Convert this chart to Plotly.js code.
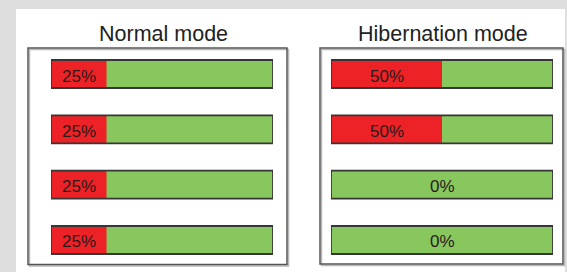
<!DOCTYPE html>
<html>
<head>
<meta charset="utf-8">
<script src="https://cdn.plot.ly/plotly-3.0.1.min.js"></script>
<style>html,body{margin:0;padding:0;background:#dedede;}#chart{width:567px;height:272px;}</style>
</head>
<body>
<div id="chart"></div>
<script>
// Data
var rows = [1, 2, 3, 4];
var panelTitles = ["Normal mode", "Hibernation mode"];
var normalRed = [25, 25, 25, 25];
var normalGreen = [75, 75, 75, 75];
var hibernationRed = [50, 50, 0, 0];
var hibernationGreen = [50, 50, 100, 100];

var RED = '#ec2227', GREEN = '#88c65e', OUTLINE = '#363636';
var FONT = 'Liberation Sans, Arial, sans-serif';

function panelTraces(red, green, xa, ya) {
  var total = red.map(function (r, i) { return r + green[i]; });
  var common = {type: 'bar', orientation: 'h', y: rows, width: 0.506, xaxis: xa, yaxis: ya, hoverinfo: 'skip', showlegend: false};
  return [
    Object.assign({}, common, {x: total, base: 0, marker: {color: GREEN, line: {width: 0}}}),
    Object.assign({}, common, {x: red, base: 0, marker: {color: RED, line: {width: 0}}}),
    Object.assign({}, common, {x: total, base: 0, marker: {color: 'rgba(0,0,0,0)', line: {width: 1.8, color: OUTLINE}}})
  ];
}

function panelLabels(red, green, xa, ya) {
  return red.map(function (r, i) {
    var total = r + green[i];
    return {xref: xa, yref: ya, x: r > 0 ? r / 2 : total / 2, y: rows[i], text: r + '%',
      showarrow: false, xanchor: 'center', yanchor: 'middle', yshift: -2,
      font: {family: FONT, size: 17, color: '#2a1a1a'}};
  });
}

var data = panelTraces(normalRed, normalGreen, 'x', 'y')
  .concat(panelTraces(hibernationRed, hibernationGreen, 'x2', 'y2'));

var W = 567, H = 272;
function px(v) { return v / W; }
function py(v) { return (H - v) / H; }

var yDomain = [py(267.67), py(46.33)];
var axisCommon = {visible: false, fixedrange: true};

var layout = {
  width: W, height: H,
  margin: {l: 0, r: 0, t: 0, b: 0},
  paper_bgcolor: '#dedede',
  plot_bgcolor: 'rgba(0,0,0,0)',
  barmode: 'overlay',
  xaxis: Object.assign({}, axisCommon, {domain: [px(51), px(273)], range: [0, 100]}),
  yaxis: Object.assign({}, axisCommon, {domain: yDomain, range: [4.5, 0.5]}),
  xaxis2: Object.assign({}, axisCommon, {domain: [px(331), px(553)], range: [0, 100], anchor: 'y2'}),
  yaxis2: Object.assign({}, axisCommon, {domain: yDomain, range: [4.5, 0.5], anchor: 'x2'}),
  shapes: [
    {type: 'rect', xref: 'paper', yref: 'paper', x0: px(16), x1: px(565), y0: py(9), y1: py(272),
     fillcolor: '#ffffff', line: {width: 0}, layer: 'below'},
    {type: 'rect', xref: 'paper', yref: 'paper', x0: px(29.5), x1: px(288.5), y0: py(49.5), y1: py(266),
     fillcolor: 'rgba(0,0,0,0)', line: {width: 1.5, color: '#b8b8b8'}, layer: 'below'},
    {type: 'rect', xref: 'paper', yref: 'paper', x0: px(28), x1: px(287), y0: py(48), y1: py(264.5),
     fillcolor: 'rgba(0,0,0,0)', line: {width: 1.5, color: '#555'}, layer: 'below'},
    {type: 'rect', xref: 'paper', yref: 'paper', x0: px(321.5), x1: px(564.5), y0: py(49.5), y1: py(265.5),
     fillcolor: 'rgba(0,0,0,0)', line: {width: 1.5, color: '#b8b8b8'}, layer: 'below'},
    {type: 'rect', xref: 'paper', yref: 'paper', x0: px(320), x1: px(563), y0: py(48), y1: py(264),
     fillcolor: 'rgba(0,0,0,0)', line: {width: 1.5, color: '#555'}, layer: 'below'}
  ],
  annotations: [
    {xref: 'paper', yref: 'paper', x: px(163), y: py(34), xanchor: 'center', yanchor: 'middle', showarrow: false,
     text: panelTitles[0], font: {family: FONT, size: 21.5, color: '#222'}},
    {xref: 'paper', yref: 'paper', x: px(443), y: py(34), xanchor: 'center', yanchor: 'middle', showarrow: false,
     text: panelTitles[1], font: {family: FONT, size: 21.5, color: '#222'}}
  ].concat(panelLabels(normalRed, normalGreen, 'x', 'y'))
   .concat(panelLabels(hibernationRed, hibernationGreen, 'x2', 'y2'))
};

Plotly.newPlot('chart', data, layout, {displayModeBar: false, staticPlot: true});
</script>
</body>
</html>
